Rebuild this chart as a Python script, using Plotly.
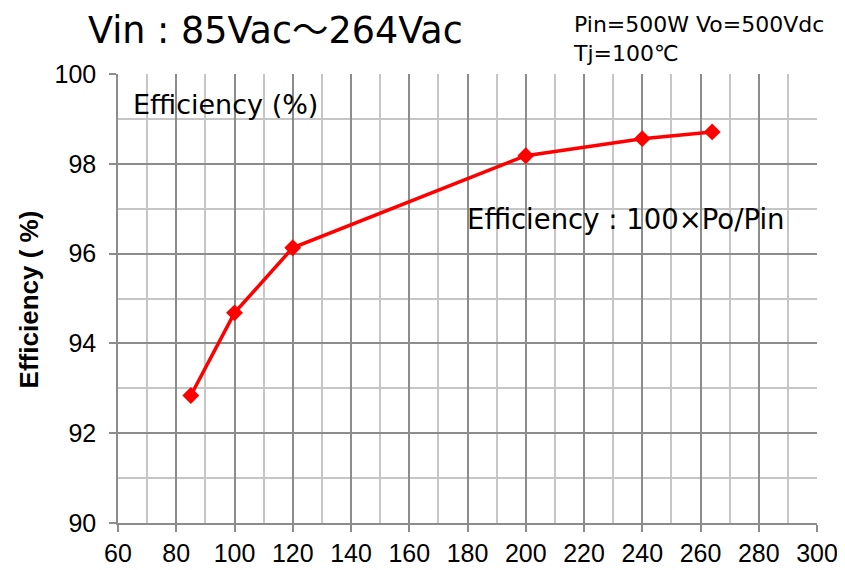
import plotly.graph_objects as go

# input voltage (Vac) and efficiency (%)
vin = [85, 100, 120, 200, 240, 264]
efficiency = [92.84, 94.68, 96.13, 98.18, 98.56, 98.71]

x_ticks = list(range(60, 301, 20))
y_ticks = list(range(90, 101, 2))

MAJOR = "#8c8c8c"
MINOR = "#c6c6c6"
TXT_FONT = "DejaVu Sans, Noto Sans CJK JP"


def axis_style(rng, ticks, minor_step, standoff):
    return dict(
        range=rng,
        tickvals=ticks,
        ticks="outside",
        ticklen=7,
        tickcolor=MAJOR,
        tickwidth=1.5,
        tickfont=dict(size=25),
        ticklabelstandoff=standoff,
        showgrid=True,
        gridcolor=MAJOR,
        gridwidth=1.5,
        showline=True,
        linecolor=MAJOR,
        linewidth=1.5,
        zeroline=False,
        automargin=False,
        minor=dict(dtick=minor_step, tick0=rng[0], showgrid=True,
                   gridcolor=MINOR, gridwidth=1.5),
    )


fig = go.Figure()

fig.add_trace(go.Scatter(
    x=vin,
    y=efficiency,
    mode="lines+markers",
    line=dict(color="#ff0000", width=3.5),
    marker=dict(symbol="diamond", size=13, color="#ff0000"),
    showlegend=False,
))

# page body has an 8px margin, so the figure is a bit smaller than the window
fig.update_layout(
    width=837,
    height=562,
    margin=dict(l=110, r=28, t=66, b=47),
    plot_bgcolor="white",
    paper_bgcolor="white",
    font=dict(family="Liberation Sans, Arial", color="black"),
    xaxis=axis_style([60, 300], x_ticks, 10, 0),
    yaxis=axis_style([90, 100], y_ticks, 1, 8),
)

# y axis title
fig.add_annotation(
    text="<b>Efficiency ( %)</b>",
    xref="paper", yref="paper", x=-0.128, y=0.497,
    xanchor="center", yanchor="middle", textangle=-90, showarrow=False,
    font=dict(size=26, family="Liberation Sans, Arial"),
)
fig.add_annotation(
    text="Vin : 85Vac～264Vac",
    xref="paper", yref="paper", x=-0.045, y=1.147,
    xanchor="left", yanchor="top", showarrow=False, borderpad=0,
    font=dict(size=36.5, family=TXT_FONT),
)
fig.add_annotation(
    text="Pin=500W Vo=500Vdc<br>Tj=100℃",
    xref="paper", yref="paper", x=0.648, y=1.078,
    xanchor="left", yanchor="middle", align="left", showarrow=False,
    font=dict(size=22, family=TXT_FONT),
)
fig.add_annotation(
    text="Efficiency (%)",
    xref="paper", yref="paper", x=0.019, y=0.933,
    xanchor="left", yanchor="middle", showarrow=False,
    font=dict(size=27, family=TXT_FONT),
)
fig.add_annotation(
    text="Efficiency : 100×Po/Pin",
    xref="paper", yref="paper", x=0.497, y=0.677,
    xanchor="left", yanchor="middle", showarrow=False,
    font=dict(size=27.5, family=TXT_FONT),
)

fig.write_html("out.html")
